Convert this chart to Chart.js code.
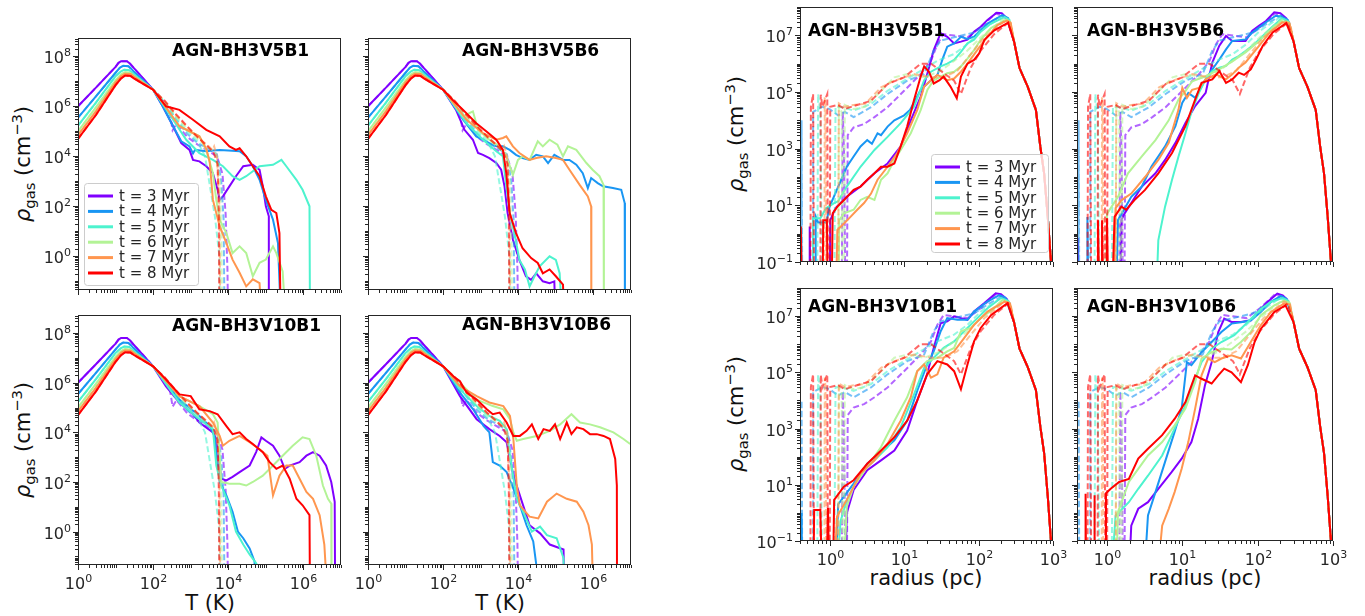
<!DOCTYPE html>
<html>
<head>
<meta charset="utf-8">
<title>Gas density profiles</title>
<script src="https://cdn.jsdelivr.net/npm/chart.js@4/dist/chart.umd.min.js"></script>
<style>
  body { margin: 0; background: #fff; }
  #figure { position: relative; width: 1365px; height: 616px; font-family: 'DejaVu Sans', sans-serif; color: #111; }
  #figure canvas { position: absolute; }
  .ylab { position: absolute; transform: translate(-50%, -50%) rotate(-90deg); font-size: 21px; white-space: nowrap; }
  .xlab { position: absolute; transform: translate(-50%, -50%); font-size: 21px; white-space: nowrap; }
  .ylab sub, .ylab sup { font-size: 70%; }
</style>
</head>
<body>
<div id="figure">
  <div class="ylab" style="left:23px; top:164px"><i>ρ</i><sub>gas</sub> (cm<sup>−3</sup>)</div>
  <div class="ylab" style="left:23px; top:440px"><i>ρ</i><sub>gas</sub> (cm<sup>−3</sup>)</div>
  <div class="ylab" style="left:736px; top:134px"><i>ρ</i><sub>gas</sub> (cm<sup>−3</sup>)</div>
  <div class="ylab" style="left:736px; top:414px"><i>ρ</i><sub>gas</sub> (cm<sup>−3</sup>)</div>
  <div class="xlab" style="left:210px; top:603px">T (K)</div>
  <div class="xlab" style="left:500px; top:603px">T (K)</div>
  <div class="xlab" style="left:926px; top:578px">radius (pc)</div>
  <div class="xlab" style="left:1205px; top:578px">radius (pc)</div>
</div>
<script>
// ---- labels and ticks ----
const timeLabels = ['t = 3 Myr', 't = 4 Myr', 't = 5 Myr', 't = 6 Myr', 't = 7 Myr', 't = 8 Myr'];
const timeColors = ['#8000ff', '#1996f3', '#4df3ce', '#b3f396', '#ff964f', '#ff0000'];
const runNames = ['AGN-BH3V5B1', 'AGN-BH3V5B6', 'AGN-BH3V10B1', 'AGN-BH3V10B6'];
const tempTickExps = [0, 2, 4, 6];
const rhoTickExpsT = [0, 2, 4, 6, 8];
const radiusTickExps = [0, 1, 2, 3];
const rhoTickExpsR = [-1, 1, 3, 5, 7];

// ---- density vs temperature: [T (K), rho (cm^-3)] ----
// cold branch below 100 K, same in every run
const coldT = [
  [[1,1e6],[3,5.6e6],[10,3.8e7],[12,5.5e7],[14,6.4e7],[20,6.4e7],[24,5.2e7],[30,3.5e7],[50,1.5e7],[100,4.6e6]],
  [[1,3.5e5],[3,2.5e6],[10,2.2e7],[13,3.5e7],[16,4.2e7],[22,4e7],[26,3.2e7],[30,2.5e7],[50,1.2e7],[100,4.6e6]],
  [[1,1.7e5],[3,1.4e6],[10,1.6e7],[14,2.5e7],[17,2.9e7],[23,2.8e7],[27,2.3e7],[30,1.95e7],[50,1.05e7],[100,4.6e6]],
  [[1,1e5],[3,9e5],[10,1.1e7],[14,1.9e7],[18,2.3e7],[24,2.2e7],[30,1.66e7],[50,9.5e6],[100,4.6e6]],
  [[1,7e4],[3,6.3e5],[10,9e6],[14,1.6e7],[18,2e7],[25,1.95e7],[30,1.6e7],[50,9.3e6],[100,4.6e6]],
  [[1,5e4],[3,4.5e5],[10,7e6],[14,1.3e7],[18,1.7e7],[25,1.65e7],[30,1.35e7],[50,8.5e6],[100,4.6e6]]
];
// reference run without feedback (dashed), above 100 K
const refT = [
  [[200,1.4e6],[280,5e5],[330,1.1e5],[420,2e5],[800,6e4],[1500,3e4],[3000,1.6e4],[5000,1e4],[7000,2e3],[8500,50],[9500,0.3],[1e4,1e-3]],
  [[200,1.4e6],[400,3e5],[800,8e4],[1500,3.5e4],[3000,2e4],[5000,1.2e4],[6500,1e3],[7500,30],[8000,1e-3]],
  [[200,1.5e6],[400,3.5e5],[800,1e5],[1500,4e4],[2400,1e4],[3600,250],[4400,40],[5800,1],[6000,1e-3]],
  [[200,1.6e6],[400,4e5],[800,1.3e5],[1500,5e4],[3000,2.2e4],[4500,1.5e4],[6000,1e3],[6500,10],[7000,1e-3]],
  [[200,1.6e6],[400,4.5e5],[800,1.5e5],[1500,6e4],[3000,2.5e4],[3800,1.8e4],[4200,2.5e4],[5000,1e4],[5800,100],[6200,1e-3]],
  [[200,1.7e6],[400,5e5],[800,1.6e5],[1500,6e4],[2500,3e4],[4000,1.5e4],[5200,5e3],[5600,50],[5800,1e-3]]
];
const tempV5B1 = [
  [[180,1e6],[340,1.6e5],[560,3.4e4],[930,1.8e4],[1150,7.2e3],[1700,6.3e3],[2600,4e3],[3900,2.1e3],[5200,460],[5900,180],[7200,250],[1.07e4,630],[1.6e4,1.6e3],[2.5e4,4e3],[4.5e4,4.6e3],[6.8e4,2.9e3],[8.3e4,630],[1e5,100],[1.2e5,40],[1.2e5,1e-3]],
  [[180,1e6],[340,1.6e5],[560,4e4],[930,2.5e4],[1150,1.3e4],[1300,1.8e4],[2600,1.6e4],[3900,1.7e4],[5900,1.8e4],[1e4,1.7e4],[2e4,1.6e4],[3e4,1e4],[4.5e4,4e3],[6.8e4,1.15e3],[1e5,180],[1.55e5,29],[2.1e5,3.4],[2.6e5,1e-3]],
  [[340,2.9e5],[760,4.6e4],[1700,1.35e4],[3900,7.2e3],[7200,4e3],[1.3e4,1.6e3],[2e4,1.15e3],[3e4,1.6e3],[6.8e4,4e3],[1.55e5,4.6e3],[2.6e5,7.2e3],[3.5e5,4e3],[6.5e5,1.15e3],[9.5e5,460],[1.45e6,100],[1.5e6,1e-3]],
  [[500,1.6e5],[1700,6.3e4],[2600,1.8e4],[3900,2.1e3],[4800,180],[5900,29],[8900,8.5],[1.3e4,1.35],[2e4,2.5],[3e4,1.35],[4.5e4,0.16],[6.8e4,0.55],[1e5,0.74],[1.55e5,2.5],[1.9e5,1.35],[2.8e5,0.25],[3.5e5,1e-3]],
  [[500,1.6e5],[1700,6.3e4],[2600,2e4],[3200,6e3],[3900,180],[5900,16],[8900,3.4],[1.3e4,0.74],[2e4,0.22],[3e4,0.063],[4.5e4,0.12],[6.8e4,0.085],[8e4,1e-3]],
  [[220,1e6],[500,7.2e5],[1150,2.9e5],[2600,1.15e5],[5900,6.3e4],[1.07e4,2.5e4],[1.6e4,1.8e4],[2e4,2.1e4],[3e4,1e4],[4.5e4,4e3],[6.8e4,1.6e3],[1e5,250],[1.4e5,72],[1.9e5,54],[2.3e5,8.5],[2.5e5,1e-3]]
];
const tempV5B6 = [
  [[220,7.2e5],[370,1.15e5],[620,4.6e4],[850,1.35e4],[1150,1.15e4],[1700,8.5e3],[2600,5.4e3],[3500,2.9e3],[4300,630],[5200,54],[7200,4.6],[1.07e4,0.72],[1.6e4,0.16],[2.2e4,0.115],[3e4,0.21],[4.5e4,0.1],[6.8e4,0.085],[9.1e4,0.1],[1e5,1e-3]],
  [[340,2.9e5],[760,6.3e4],[1700,3.4e4],[2600,2.5e4],[3900,2.5e4],[5900,1.8e4],[8700,1.15e4],[1.3e4,8.5e3],[2e4,7.2e3],[3e4,1.15e4],[4.5e4,1e4],[6.2e4,5.4e3],[9.1e4,1.15e4],[1.55e5,7.2e3],[2.3e5,7.2e3],[3.5e5,4.6e3],[5.2e5,2.1e3],[7.1e5,540],[8.7e5,1.35e3],[1.3e6,850],[1.8e6,630],[3.3e6,540],[5.5e6,460],[6.8e6,135],[6.9e6,1e-3]],
  [[420,2.1e5],[1150,4.6e4],[2600,1.6e4],[3900,1e4],[4800,630],[5900,54],[7900,8.5],[1.07e4,0.72],[1.5e4,0.3],[2e4,0.063],[2.7e4,0.16],[3.7e4,0.4],[6.8e4,1],[1e5,0.72],[1.26e5,0.21],[1.55e5,1e-3]],
  [[340,4e5],[620,6.3e5],[850,1.15e5],[1700,4.6e4],[3200,2.5e4],[4800,1e4],[7200,1.8e3],[9800,7.2e3],[1.3e4,1e4],[2e4,7.2e3],[3.3e4,4e4],[4.5e4,2.5e4],[6.8e4,4.6e4],[1.1e5,2.9e4],[1.55e5,1e4],[2.1e5,2.5e4],[3.5e5,1.8e4],[6.5e5,5.4e3],[9.5e5,2.9e3],[1.45e6,1.6e3],[1.86e6,720],[1.9e6,1e-3]],
  [[420,2.9e5],[1150,8.5e4],[2600,4.6e4],[3900,5.4e4],[4800,6.3e4],[7200,2.5e4],[1.07e4,1.35e4],[2e4,7.2e3],[3e4,8.5e3],[5.5e4,1e4],[1e5,8.5e3],[1.55e5,7.2e3],[2.3e5,2.9e3],[4.3e5,720],[7.1e5,250],[8.7e5,100],[8.8e5,1e-3]],
  [[180,1.8e6],[340,7.2e5],[760,2.1e5],[1400,1e5],[2600,4.6e4],[3900,1.8e4],[4800,2.1e3],[5900,54],[8700,8.5],[1.3e4,2.1],[2.2e4,0.85],[3.3e4,0.54],[4.5e4,0.21],[6.8e4,0.3],[1e5,0.16],[1.55e5,0.074],[1.7e5,1e-3]]
];
const tempV10B1 = [
  [[220,7.2e5],[500,1.6e5],[1150,5.4e4],[1700,2.5e4],[3900,1e4],[4800,5.4e3],[5900,460],[6500,135],[8900,115],[1.3e4,160],[2e4,250],[3.7e4,460],[5.5e4,1.6e3],[7.6e4,6.3e3],[1e5,4.6e3],[1.55e5,2.9e3],[2.3e5,1.15e3],[3.2e5,340],[4.3e5,460],[7.9e5,630],[1.2e6,1.15e3],[1.8e6,1.6e3],[2.7e6,1.15e3],[4e6,460],[5.5e6,100],[6.8e6,16],[7e6,1e-3]],
  [[500,2.1e5],[1700,4.6e4],[3200,1.8e4],[4300,7.2e3],[5900,100],[8900,29],[1.3e4,6.3],[1.8e4,1],[2.5e4,0.54],[3.7e4,0.21],[5e4,0.063],[5.2e4,1e-3]],
  [[500,1.6e5],[1700,3.4e4],[3900,1.35e4],[4800,460],[6500,72],[1.07e4,11.5],[1.6e4,1],[2.5e4,0.3],[3.7e4,0.12],[5.5e4,0.054],[5.6e4,1e-3]],
  [[500,2.9e5],[1700,1.15e5],[3900,5.4e4],[5200,2.5e4],[6500,100],[1.07e4,85],[2e4,85],[3e4,72],[4.5e4,100],[8.3e4,180],[1.55e5,460],[2.8e5,1.15e3],[5.2e5,2.9e3],[9.5e5,6.3e3],[1.45e6,5.4e3],[2.2e6,1.15e3],[3.3e6,72],[4.5e6,21],[5.5e6,13.5],[5.6e6,1e-3]],
  [[500,2.9e5],[1700,1.15e5],[3900,2.5e4],[5900,7.2e3],[7200,2.9e3],[1.07e4,4.6e3],[2e4,7.2e3],[3.7e4,4e3],[6.8e4,2.1e3],[1.1e5,1.15e3],[1.55e5,29],[2.3e5,180],[3.5e5,460],[5.2e5,460],[7.9e5,135],[1.2e6,40],[1.8e6,21],[2.7e6,4.6],[3.6e6,0.3],[4.5e6,1e-3]],
  [[220,1.35e6],[500,3.4e5],[1000,2.9e5],[1700,8.5e4],[3200,7.2e4],[5200,5.4e4],[8900,1.8e4],[1.3e4,8.5e3],[2e4,1e4],[3e4,5.4e3],[4.5e4,3.4e3],[8.3e4,1.6e3],[1.26e5,630],[1.9e5,340],[2.8e5,460],[4.3e5,135],[6.5e5,21],[9.5e5,11.5],[1.45e6,4.6],[1.5e6,1e-3]]
];
const tempV10B6 = [
  [[280,2.9e5],[780,3.4e4],[1700,1.35e4],[3200,7.2e3],[4900,4e3],[7400,180],[1.1e4,29],[2e4,1.8],[3.8e4,0.85],[6.9e4,0.3],[1.6e5,0.19],[1.7e5,1e-3]],
  [[280,4e5],[630,8.5e4],[1200,1.8e4],[1700,1e4],[2100,630],[3200,460],[4900,250],[7400,54],[1.1e4,11.5],[1.66e4,1.8],[2.5e4,0.4],[4.2e4,1e-3]],
  [[280,5.4e5],[780,1.15e5],[1700,4.6e4],[3200,2.9e4],[4900,1.35e4],[6000,1.15e3],[9100,21],[1.35e4,6.3],[2.3e4,1],[3.8e4,1.6],[5.8e4,0.72],[1.05e5,0.54],[1.6e5,0.085],[1.7e5,1e-3]],
  [[280,1e6],[780,2.1e5],[2100,1.15e5],[4000,8.5e4],[6000,3.4e4],[7400,1e4],[9100,4.6e3],[1.35e4,5.4e3],[3.1e4,7.2e3],[6.9e4,1.15e4],[1.3e5,2.1e4],[2.6e5,5.4e4],[4.4e5,2.5e4],[8.1e5,2.1e4],[1.5e6,1.6e4],[3.4e6,1e4],[6.3e6,5.4e3],[9.5e6,3.4e3]],
  [[280,7.2e5],[780,2.9e5],[1700,1.6e5],[4000,1.15e5],[6000,4.6e4],[7400,5.4e3],[9100,72],[1.1e4,11.5],[2e4,4],[3.4e4,3.4],[5.8e4,16],[1.05e5,34],[1.95e5,21],[3.6e5,16],[5.4e5,6.3],[7.4e5,1.8],[9.1e5,0.3],[1e6,1e-3]],
  [[190,1.8e6],[280,1.15e6],[420,4e5],[780,2.1e5],[1450,8.5e4],[2100,5.4e4],[3200,6.3e4],[4900,2.5e4],[7400,7.2e3],[1.1e4,7.2e3],[1.66e4,1.15e4],[2.3e4,2.1e4],[3.4e4,5.4e3],[4.7e4,1.35e4],[6.9e4,1.15e4],[9.5e4,2.1e4],[1.3e5,5.4e3],[1.95e5,2.5e4],[2.6e5,8.5e3],[3.6e5,1.6e4],[5.4e5,1.35e4],[8.1e5,8.5e3],[1.23e6,8.5e3],[1.86e6,7.2e3],[2.75e6,5.4e3],[3.8e6,850],[4.2e6,72],[4.25e6,1e-3]]
];

// ---- density vs radius: [r (pc), rho (cm^-3)] ----
// steep outer fall-off beyond the peak, common to every curve
const outerR = [[300,6e6],[355,7e5],[457,1.55e5],[590,2.3e4],[675,1.2e3],[760,135],[850,4],[935,0.12],[1000,1e-3]];
const refR = [
  [[1.45,1e-3],[1.5,2e4],[1.56,850],[1.64,1e-3],[1.7,1e-3],[1.75,3e3],[2.1,5.6e3],[2.9,7.4e3],[4,1.3e4],[6,2.9e4],[10,1.1e5],[16.7,4.3e5],[23,1.26e6],[28,4.9e6],[34,1.1e7],[47,9.8e6],[71,8.5e6],[107,1.9e7],[170,6e7],[220,4.5e7],[260,3e7]],
  [[0.42,1e-3],[0.42,1e4],[0.43,1e-3],[0.6,1e-3],[0.6,2e4],[0.8,3e4],[1,2.5e4],[1.3,1.5e4],[1.6,2e4],[2.1,1.3e4],[3.6,2.9e4],[6,8.5e4],[11,2.5e5],[18.6,4.3e5],[25,2.9e6],[31,6.5e6],[47,8.5e6],[87,1.26e7],[130,2.5e7],[205,5e7],[250,3.5e7]],
  [[0.68,1e-3],[0.7,8.5e4],[0.75,2e4],[0.8,1e-3],[1.15,1e-3],[1.2,3e4],[1.5,2.9e4],[2.1,2.2e4],[3.6,3.8e4],[6,1.1e5],[10,2.5e5],[16.7,5.6e5],[28,1.26e6],[47,2.2e6],[71,4.9e6],[107,1.45e7],[200,4.4e7],[260,3e7]],
  [[1.3,1e-3],[1.33,3e4],[1.45,2e4],[1.5,1e-3],[1.56,1e-3],[1.6,3.5e4],[2.1,2.5e4],[3,3e4],[4.9,1.1e5],[7.4,3.3e5],[11,4.3e5],[18.6,3.3e5],[31,5.6e5],[47,1.26e6],[71,2.9e6],[107,8.5e6],[210,3.6e7],[260,2.8e7]],
  [[0.85,1e-3],[0.86,6.5e4],[0.88,3e4],[0.9,1e-3],[1.3,1e-3],[1.33,4e4],[1.6,3e4],[2.1,3.5e4],[3,3.8e4],[4.9,1.45e5],[7.4,2.5e5],[13.6,4.3e5],[23,3.3e5],[34,3.3e5],[52,5.6e5],[79,2.2e6],[120,8.5e6],[224,3.3e7],[270,2.6e7]],
  [[0.55,1e-3],[0.56,3e4],[0.6,8.5e4],[0.62,1e-3],[0.75,1e-3],[0.76,8e4],[0.8,3e4],[0.93,8.5e4],[0.95,1e-3],[1,1e-3],[1.02,3e4],[1.3,3.5e4],[1.6,2.5e4],[2.1,3.2e4],[3.6,4.9e4],[6,1.9e5],[10,3.3e5],[16.7,1e6],[23,1e6],[31,5.6e5],[47,2.5e5],[58,8.5e4],[79,7.4e5],[107,2.9e6],[162,1.1e7],[250,2.8e7]]
];
const radV5B1 = [
  [[0.54,1e-3],[0.54,1.8],[0.56,1e-3],[1,1e-3],[1.02,3],[1.2,8],[1.7,20],[2.6,46],[4,135],[6,300],[9,1.2e3],[12.3,1e4],[16.7,6.9e4],[20.6,4.6e5],[25,3e6],[31,1.2e7],[38,8.9e6],[47,5.2e6],[58,6e6],[71,7e6],[87,1.35e7],[107,2e7],[132,3.5e7],[175,6.3e7],[205,6e7],[240,4e7]],
  [[0.65,1e-3],[0.65,4],[0.7,2.5],[0.9,2.5],[1,9],[1.7,230],[2.1,530],[2.6,1.2e3],[3.2,2e3],[3.7,1.5e3],[4.4,3.5e3],[4.9,3e3],[6,6e3],[7.4,1e4],[10,1.5e4],[12,2.3e4],[16.7,1.2e5],[23,2.6e5],[28,4e5],[33,1.5e6],[38,4e6],[47,5.2e6],[58,8.9e6],[71,7.5e6],[87,9e6],[107,1.5e7],[132,2.6e7],[210,5.2e7],[250,4e7]],
  [[0.6,1e-3],[0.6,3.5],[0.75,3.5],[0.9,8],[1.15,12],[1.3,14],[1.7,46],[2.6,230],[4,900],[6,2.6e3],[9,8e3],[13.6,3e4],[18.6,2.6e5],[23,5.2e5],[31,8e5],[38,1e6],[47,1.35e6],[58,2.6e6],[71,5.2e6],[87,7e6],[107,1.35e7],[147,2.6e7],[224,4.4e7],[260,3.5e7]],
  [[1.3,1e-3],[1.35,3],[1.56,5.2],[2.1,7],[2.6,15.5],[3.2,20],[4,15.5],[4.9,80],[6,135],[7.4,400],[9,900],[12.3,3.5e3],[16.7,2.3e4],[20.6,1.2e5],[25,2.6e5],[38,4.6e5],[47,5.2e5],[58,8e5],[71,1.5e6],[87,3e6],[107,7e6],[147,1.8e7],[235,3.6e7],[265,3e7]],
  [[1.2,1e-3],[1.27,1.35],[1.56,2.3],[1.92,4],[2.35,7],[2.9,12],[3.6,26],[4.4,80],[6,230],[8.1,700],[11,3.5e3],[15,2.3e4],[18.6,1.55e5],[23,2.6e5],[28,4e5],[38,2.6e5],[47,3e5],[58,5.2e5],[71,1e6],[96,3e6],[132,9e6],[180,2.3e7],[240,3.3e7],[270,2.8e7]],
  [[0.41,1e-3],[0.41,1.8],[0.43,1e-3],[0.8,1e-3],[0.82,3],[0.92,3],[0.95,1e-3],[1.05,1e-3],[1.1,5.2],[1.27,9],[1.56,15.5],[2.1,35],[2.6,46],[3.2,80],[4,135],[4.9,230],[6,230],[7.4,300],[9,1.2e3],[11,6e3],[13.6,5.2e4],[16.7,3.5e5],[18.6,8e5],[21.6,5.2e5],[25,2e5],[30,2.6e5],[34,3.5e5],[42,1.55e5],[51,6e4],[58,3.5e5],[71,1e6],[87,1.35e6],[102,2.3e6],[120,7e6],[163,1.5e7],[250,2.8e7]]
];
const radV5B6 = [
  [[0.41,1e-3],[0.41,0.7],[0.42,1e-3],[1.5,1e-3],[1.55,3],[1.7,5],[2.9,46],[4.4,135],[5.9,400],[8.1,1.6e3],[11,8e3],[14.8,3.2e4],[20.4,9.3e4],[25,1.1e6],[31,4.3e6],[38,9.5e6],[46,6.3e6],[69,6.3e6],[85,1.45e7],[105,2.2e7],[129,3.2e7],[166,6.5e7],[200,6e7],[240,4e7]],
  [[0.55,1e-3],[0.55,3.9],[0.57,1e-3],[1.3,1e-3],[1.4,3],[2.1,20],[2.9,46],[3.9,235],[5.9,1.2e3],[8.1,6.2e3],[10,4.2e4],[12,9.3e4],[14.8,6.2e4],[20.4,2.8e5],[25,6.3e5],[31,1.4e6],[38,3.2e6],[46,6.3e6],[69,7.2e6],[85,1.26e7],[129,2.9e7],[174,4.9e7],[210,4.5e7],[250,3.5e7]],
  [[4.4,1e-3],[4.8,0.58],[5.9,9],[7.3,80],[8.9,530],[11,3.5e3],[13.5,2.4e4],[16.6,9.3e4],[20.4,2.8e5],[25,5.5e5],[31,7.2e5],[38,8.3e5],[46,1.4e6],[56,1.86e6],[69,2.8e6],[85,4.3e6],[105,7.2e6],[145,1.66e7],[210,4e7],[260,3e7]],
  [[0.95,1e-3],[1,5],[1.4,20],[1.9,135],[2.9,530],[4.4,2e3],[6.6,1e4],[8.9,5.4e4],[11,1.07e5],[13.5,2.4e5],[20.4,3.6e5],[31,6.3e5],[46,1.2e6],[69,2.5e6],[105,6.3e6],[145,1.45e7],[204,3.2e7],[260,2.8e7]],
  [[1.2,1e-3],[1.3,8],[1.55,15],[2.1,26],[3.2,100],[4.8,400],[6.6,1.6e3],[8.9,2.4e4],[10,1.4e5],[11.5,6.2e4],[13.5,1.2e5],[16.6,1.4e5],[20.4,2.8e5],[28,4.2e5],[38,2.8e5],[46,4.2e5],[56,7.2e5],[69,1.1e6],[105,4.3e6],[145,1.26e7],[214,2.9e7],[265,2.6e7]],
  [[0.76,1e-3],[0.76,3],[0.8,1e-3],[0.86,1e-3],[0.86,3],[0.9,1e-3],[0.98,1e-3],[1,3.5],[1.05,1e-3],[1.15,1e-3],[1.26,3.9],[1.55,9],[1.8,7],[2.3,15],[3.2,35],[4.8,135],[7.3,700],[11,6.2e3],[14.8,5.4e4],[18,2.1e5],[25,2.8e5],[31,5.5e5],[38,2.1e5],[46,2.8e5],[56,4.8e5],[66,4e5],[81,6.3e5],[95,1.4e6],[117,4.3e6],[158,1.26e7],[240,2.7e7]]
];
const radV10B1 = [
  [[0.41,1e-3],[0.41,0.5],[0.42,1e-3],[1.6,1e-3],[1.7,1],[2.1,6.5],[3.2,33],[4.9,74],[7.4,166],[11,850],[15,9.8e3],[20.4,8.5e4],[25,7.4e5],[31,5.6e6],[38,6.5e6],[47,9.8e6],[58,8.5e6],[71,7.4e6],[87,1.45e7],[120,2.9e7],[170,6.5e7],[200,6e7],[240,4e7]],
  [[0.42,1e-3],[0.42,1],[0.43,1e-3],[1.2,1e-3],[1.3,2],[2.1,11],[3.2,56],[4.9,145],[7.4,380],[11,1.9e3],[15,2.2e4],[20.4,1.9e5],[25,5.6e5],[31,2.9e6],[38,8.5e6],[52,7.4e6],[71,7.4e6],[87,1.45e7],[132,3.3e7],[190,5.6e7],[230,4.5e7]],
  [[1.2,1e-3],[1.4,0.5],[1.7,2.9],[2.6,25],[4,74],[6,220],[9,1.1e3],[13.6,1.66e4],[18.6,1.45e5],[25,3.3e5],[34,7.4e5],[47,1.26e6],[64,2.9e6],[87,6.5e6],[132,1.9e7],[200,4.4e7],[250,3.5e7]],
  [[1.5,1e-3],[1.7,1.66],[2.1,8.5],[3.2,44],[4.9,220],[7.4,1.9e3],[11,1.3e4],[15,1.1e5],[20.4,2.5e5],[28,3.3e5],[38,5.6e5],[47,7.4e5],[58,2.9e6],[79,3.8e6],[107,8.5e6],[162,1.9e7],[210,3.8e7],[260,3e7]],
  [[1.1,1e-3],[1.26,0.74],[1.7,2.9],[2.6,25],[4,74],[6,290],[9,1.9e3],[12.3,1.3e4],[15,1.1e5],[18.6,1.9e5],[23,6.5e4],[28,8.5e4],[34,3.3e5],[47,5.6e5],[64,1.66e6],[87,4.9e6],[132,1.45e7],[224,3.3e7],[265,2.8e7]],
  [[0.6,1e-3],[0.62,1.26],[0.75,1.26],[0.8,1e-3],[0.9,1e-3],[0.95,1.5],[1,1e-3],[1.1,1e-3],[1.15,2.9],[1.55,8.5],[2.1,14.5],[3.2,56],[4.9,166],[7.4,490],[11,1.9e3],[15,9.8e3],[20.4,8.5e4],[28,2.5e5],[38,1.9e5],[47,1.1e5],[58,2.5e4],[71,1.9e5],[87,1.26e6],[107,3.8e6],[148,1.1e7],[245,2.9e7]]
];
const radV10B6 = [
  [[1.9,1e-3],[2.1,0.35],[2.6,1.4],[3.5,2.4],[4.8,7.2],[7.2,28],[9.8,85],[13.2,330],[16.2,2.2e3],[20,3.5e4],[24.5,2.3e5],[30,2.7e6],[36,8.1e6],[45,6.2e6],[60,6.2e6],[81,7.1e6],[100,1.4e7],[135,3.2e7],[182,6.3e7],[215,5.5e7],[245,4e7]],
  [[3,1e-3],[3.5,0.81],[4.4,5.5],[5.9,65],[7.9,760],[9.8,5.1e3],[11.5,2.3e5],[13.2,1.8e5],[18,5.2e5],[24.5,1.2e6],[33,2.7e6],[45,5.4e6],[60,6e6],[81,7e6],[110,1.4e7],[150,3.2e7],[204,5.2e7],[240,4.2e7]],
  [[1.1,1e-3],[1.3,0.8],[1.6,1.4],[1.95,2.4],[2.6,7.2],[3.5,21],[5.4,110],[7.9,1e3],[11,6.6e3],[14.8,5.9e4],[18,2.3e5],[24.5,6.9e5],[33,1.2e6],[49,2.1e6],[74,6.2e6],[110,1.8e7],[150,3.2e7],[214,4.4e7],[255,3.5e7]],
  [[1.3,1e-3],[1.4,1.07],[1.95,12.6],[2.6,37],[3.5,110],[5.4,330],[7.9,1.3e3],[11,5.1e3],[14.8,4.5e4],[18,3.1e5],[24.5,5.2e5],[33,6.9e5],[45,6.5e5],[60,1.2e6],[81,2.7e6],[110,1.07e7],[166,2.4e7],[224,3.6e7],[265,3e7]],
  [[4.4,1e-3],[5.4,0.35],[6.6,1.4],[7.9,5.5],[9.8,37],[12,330],[14.8,5.1e3],[18,7.8e4],[22,3.1e5],[27,2.3e5],[33,3.1e5],[45,4e5],[60,3.1e5],[81,1.2e6],[110,4.7e6],[150,1.4e7],[224,2.8e7],[265,2.6e7]],
  [[0.52,1e-3],[0.52,4.8],[0.53,1e-3],[0.68,1e-3],[0.68,4.2],[0.69,1e-3],[0.95,1e-3],[0.97,5],[1.12,7.2],[1.45,12.6],[1.95,16],[2.6,85],[3.5,190],[5.4,580],[7.9,2.2e3],[11,8.7e3],[14.8,7.8e4],[18,5.9e4],[24.5,4e4],[30,7.8e4],[36,1.35e5],[45,1e5],[60,4.5e4],[74,1.8e5],[91,1.2e6],[110,3.5e6],[166,1.4e7],[234,2.4e7]]
];

// ---- panel layout (plot frame in page pixels: left, top, right, bottom) ----
const PAD = { l: 60, t: 8, r: 22, b: 34 };
const tempAxes = { xMin: 1, xMax: 1e7, yMin: 0.045, yMax: 5.4e8, xExps: tempTickExps, yExps: rhoTickExpsT };
const radAxes = { xMin: 0.4, xMax: 1000, yMin: 0.1, yMax: 1e8, xExps: radiusTickExps, yExps: rhoTickExpsR };

const panels = [
  { axes: tempAxes, frame: [78, 38, 341, 290], name: runNames[0], curves: tempV5B1, xLabels: false, yLabels: true,
    titleAt: [94, 14], legendBox: [6, 145, 114, 102] },
  { axes: tempAxes, frame: [368, 38, 631, 290], name: runNames[1], curves: tempV5B6, xLabels: false, yLabels: false, titleAt: [94, 14] },
  { axes: tempAxes, frame: [78, 315, 341, 565], name: runNames[2], curves: tempV10B1, xLabels: true, yLabels: true, titleAt: [94, 12] },
  { axes: tempAxes, frame: [368, 315, 631, 565], name: runNames[3], curves: tempV10B6, xLabels: true, yLabels: false, titleAt: [94, 11] },
  { axes: radAxes, frame: [800, 7, 1053, 262], name: runNames[0], curves: radV5B1, xLabels: false, yLabels: true,
    titleAt: [8, 25], legendBox: [131, 147, 117, 98] },
  { axes: radAxes, frame: [1077, 7, 1333, 262], name: runNames[1], curves: radV5B6, xLabels: false, yLabels: false, titleAt: [10, 25] },
  { axes: radAxes, frame: [800, 288, 1053, 541], name: runNames[2], curves: radV10B1, xLabels: true, yLabels: true, titleAt: [8, 20] },
  { axes: radAxes, frame: [1077, 288, 1333, 541], name: runNames[3], curves: radV10B6, xLabels: true, yLabels: false, titleAt: [10, 20] }
];

const FONT = '"DejaVu Sans", sans-serif';
const INK = '#262626';

// "10" with a raised exponent, the way log axes are labelled
function powerLabel(ctx, exp, x, baseline, align) {
  const e = String(exp).replace('-', '\u2212');
  ctx.font = '16px ' + FONT;
  const w1 = ctx.measureText('10').width;
  ctx.font = '11px ' + FONT;
  const w2 = ctx.measureText(e).width;
  const start = align === 'center' ? x - (w1 + w2) / 2 : x - (w1 + w2);
  ctx.textAlign = 'left';
  ctx.textBaseline = 'alphabetic';
  ctx.font = '16px ' + FONT;
  ctx.fillText('10', start, baseline);
  ctx.font = '11px ' + FONT;
  ctx.fillText(e, start + w1, baseline - 7);
}

// every k*10^d inside the axis range
function logTicks(scale) {
  const out = [];
  const lo = Math.floor(Math.log10(scale.min)), hi = Math.ceil(Math.log10(scale.max));
  for (let d = lo; d <= hi; d++) {
    for (let k = 1; k <= 9; k++) {
      const v = k * Math.pow(10, d);
      if (v >= scale.min * 0.999 && v <= scale.max * 1.001) out.push({ v, k, d });
    }
  }
  return out;
}

const frameDecor = {
  id: 'frameDecor',
  afterDatasetsDraw(chart, args, o) {
    const { ctx, chartArea: a } = chart;
    const xs = chart.scales.x, ys = chart.scales.y;
    ctx.save();
    ctx.strokeStyle = INK;
    ctx.fillStyle = INK;
    ctx.lineWidth = 1;
    ctx.strokeRect(a.left + 0.5, a.top + 0.5, a.right - a.left - 1, a.bottom - a.top - 1);

    logTicks(xs).forEach(t => {
      const px = Math.round(xs.getPixelForValue(t.v)) + 0.5;
      const major = t.k === 1 && o.xExps.includes(t.d);
      ctx.beginPath();
      ctx.moveTo(px, a.bottom);
      ctx.lineTo(px, a.bottom + (major ? 5 : 3));
      ctx.stroke();
      if (major && o.xLabels) powerLabel(ctx, t.d, px, a.bottom + 24, 'center');
    });
    logTicks(ys).forEach(t => {
      const py = Math.round(ys.getPixelForValue(t.v)) + 0.5;
      const major = t.k === 1 && o.yExps.includes(t.d);
      ctx.beginPath();
      ctx.moveTo(a.left, py);
      ctx.lineTo(a.left - (major ? 5 : 3), py);
      ctx.stroke();
      if (major && o.yLabels) powerLabel(ctx, t.d, a.left - 7, py + 6, 'right');
    });

    // run name
    ctx.fillStyle = '#000';
    ctx.font = 'bold 17px ' + FONT;
    ctx.textAlign = 'left';
    ctx.textBaseline = 'middle';
    ctx.fillText(o.name, a.left + o.titleAt[0], a.top + o.titleAt[1]);

    // legend
    if (o.legendBox) {
      const [lx, ly, lw, lh] = o.legendBox;
      const x0 = a.left + lx, y0 = a.top + ly;
      ctx.fillStyle = 'rgba(255,255,255,0.8)';
      ctx.strokeStyle = '#cccccc';
      ctx.beginPath();
      ctx.roundRect(x0 + 0.5, y0 + 0.5, lw, lh, 3);
      ctx.fill();
      ctx.stroke();
      ctx.font = '15px ' + FONT;
      ctx.textBaseline = 'middle';
      timeLabels.forEach((label, i) => {
        const ry = y0 + 13 + i * 15.4;
        ctx.strokeStyle = timeColors[i];
        ctx.lineWidth = 3;
        ctx.beginPath();
        ctx.moveTo(x0 + 4, ry);
        ctx.lineTo(x0 + 29, ry);
        ctx.stroke();
        ctx.fillStyle = INK;
        ctx.fillText(label, x0 + 35, ry + 1);
      });
    }
    ctx.restore();
  }
};

function toXY(points) {
  return points.map(p => ({ x: p[0], y: p[1] }));
}

function buildDatasets(p) {
  const temp = p.axes === tempAxes;
  const sets = [];
  // later times on top: red first, it is drawn last
  for (let i = 5; i >= 0; i--) {
    const solid = temp ? coldT[i].concat(p.curves[i]) : p.curves[i].concat(outerR);
    const dashed = temp ? coldT[i].concat(refT[i]) : refR[i].concat(outerR);
    sets.push({ data: toXY(solid), borderColor: timeColors[i], borderWidth: 2 });
    sets.push({ data: toXY(dashed), borderColor: timeColors[i] + '99', borderWidth: 2, borderDash: [6, 3] });
  }
  return sets;
}

const fig = document.getElementById('figure');

panels.forEach(p => {
  const [x0, y0, x1, y1] = p.frame;
  const cv = document.createElement('canvas');
  cv.width = x1 - x0 + PAD.l + PAD.r;
  cv.height = y1 - y0 + PAD.t + PAD.b;
  cv.style.left = (x0 - PAD.l) + 'px';
  cv.style.top = (y0 - PAD.t) + 'px';
  fig.appendChild(cv);

  new Chart(cv.getContext('2d'), {
    type: 'line',
    data: { datasets: buildDatasets(p) },
    options: {
      responsive: false,
      animation: false,
      events: [],
      layout: { padding: { left: PAD.l, top: PAD.t, right: PAD.r, bottom: PAD.b } },
      elements: { point: { radius: 0 }, line: { tension: 0, fill: false } },
      datasets: { line: { clip: 0 } },
      scales: {
        x: { type: 'logarithmic', min: p.axes.xMin, max: p.axes.xMax, display: false },
        y: { type: 'logarithmic', min: p.axes.yMin, max: p.axes.yMax, display: false }
      },
      plugins: {
        legend: { display: false },
        tooltip: { enabled: false },
        frameDecor: {
          name: p.name, titleAt: p.titleAt, legendBox: p.legendBox,
          xExps: p.axes.xExps, yExps: p.axes.yExps, xLabels: p.xLabels, yLabels: p.yLabels
        }
      }
    },
    plugins: [frameDecor]
  });
});
</script>
</body>
</html>
